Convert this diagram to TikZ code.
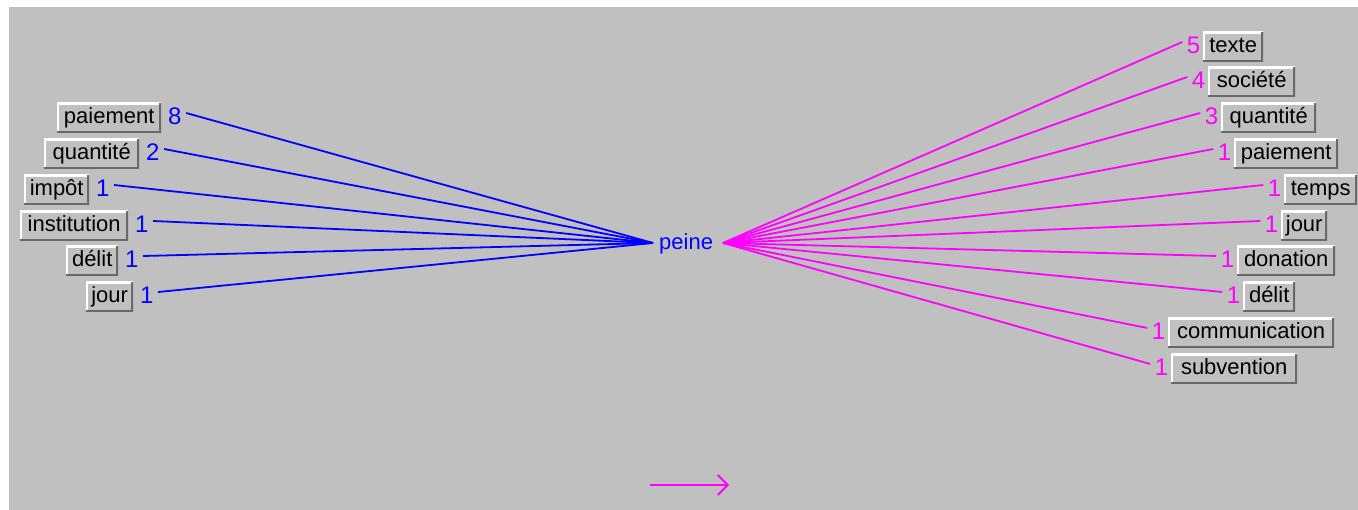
\documentclass[tikz,border=0pt]{standalone}
\usepackage{fontspec}
\setmainfont{Liberation Sans}
\usetikzlibrary{arrows.meta,positioning}
\definecolor{winbg}{RGB}{192,192,192}
\definecolor{winshadow}{RGB}{105,105,105}
\definecolor{myblue}{RGB}{0,0,255}
\definecolor{mymag}{RGB}{255,0,255}
\tikzset{
  lbl/.style={font=\fontsize{22}{26}\selectfont},
  btn/.style={lbl, anchor=west, fill=winbg, minimum height=30pt, inner sep=0pt,
    text height=16pt, text depth=5pt, text=black,
    path picture={
      \draw[white,line width=4pt] (path picture bounding box.south west) -- (path picture bounding box.north west) -- (path picture bounding box.north east);
      \draw[winshadow,line width=4pt] (path picture bounding box.north east) -- (path picture bounding box.south east) -- (path picture bounding box.south west);}},
  num/.style={font=\fontsize{24}{28}\selectfont, inner xsep=4.5pt, inner ysep=0pt, text height=17pt, text depth=0pt, yshift=2pt},
  lnum/.style={num, text=myblue},
  rnum/.style={num, text=mymag},
  bline/.style={myblue, line width=1.8pt},
  mline/.style={mymag, line width=1.8pt},
}
\begin{document}
\begin{tikzpicture}[x=1pt,y=-1pt]
\useasboundingbox (0,0) rectangle (1358,510);
\fill[white] (0,0) rectangle (1358,510);
\fill[winbg] (9,7) rectangle (1358,510);

% centre
\coordinate (cL) at (653,243);
\coordinate (cR) at (723,243);
\node[lbl, text=myblue, anchor=base west, inner sep=0pt] (peine) at (659,250) {peine};

% left side
\node[btn, minimum width=104pt] (l1) at (57,118) {paiement};
\node[btn, minimum width=95pt] (l2) at (44,154) {quantité};
\node[btn, minimum width=65pt] (l3) at (24,190) {impôt};
\node[btn, minimum width=108pt] (l4) at (20,226) {institution};
\node[btn, minimum width=52pt] (l5) at (66,261) {délit};
\node[btn, minimum width=47pt] (l6) at (86,297) {jour};

\node[lnum, right=2pt of l1] (ln1) {8};
\node[lnum, right=2pt of l2] (ln2) {2};
\node[lnum, right=2pt of l3] (ln3) {1};
\node[lnum, right=2pt of l4] (ln4) {1};
\node[lnum, right=2pt of l5] (ln5) {1};
\node[lnum, right=2pt of l6] (ln6) {1};

\foreach \i in {1,...,6} \draw[bline] ([yshift=3pt]ln\i.east) -- (cL);

% right side
\node[btn, minimum width=60pt] (r1) at (1203,47) {texte};
\node[btn, minimum width=87pt] (r2) at (1208,82) {société};
\node[btn, minimum width=95pt] (r3) at (1221,118) {quantité};
\node[btn, minimum width=104pt] (r4) at (1234,154) {paiement};
\node[btn, minimum width=73pt] (r5) at (1284,190) {temps};
\node[btn, minimum width=46pt] (r6) at (1281,226) {jour};
\node[btn, minimum width=98pt] (r7) at (1237,261) {donation};
\node[btn, minimum width=52pt] (r8) at (1243,297) {délit};
\node[btn, minimum width=166pt] (r9) at (1168,333) {communication};
\node[btn, minimum width=126pt] (r10) at (1171,369) {subvention};

\node[rnum, left=-2pt of r1] (rn1) {5};
\node[rnum, left=-2pt of r2] (rn2) {4};
\node[rnum, left=-2pt of r3] (rn3) {3};
\node[rnum, left=-2pt of r4] (rn4) {1};
\node[rnum, left=-2pt of r5] (rn5) {1};
\node[rnum, left=-2pt of r6] (rn6) {1};
\node[rnum, left=-2pt of r7] (rn7) {1};
\node[rnum, left=-2pt of r8] (rn8) {1};
\node[rnum, left=-2pt of r9] (rn9) {1};
\node[rnum, left=-2pt of r10] (rn10) {1};

\foreach \i in {1,...,10} \draw[mline] (cR) -- ([yshift=3pt]rn\i.west);

% bottom arrow
\coordinate (a1) at (650,485);
\coordinate (a2) at (729,485);
\draw[mline, -{Straight Barb[length=10pt,width=20pt]}] (a1) -- (a2);
\end{tikzpicture}
\end{document}
